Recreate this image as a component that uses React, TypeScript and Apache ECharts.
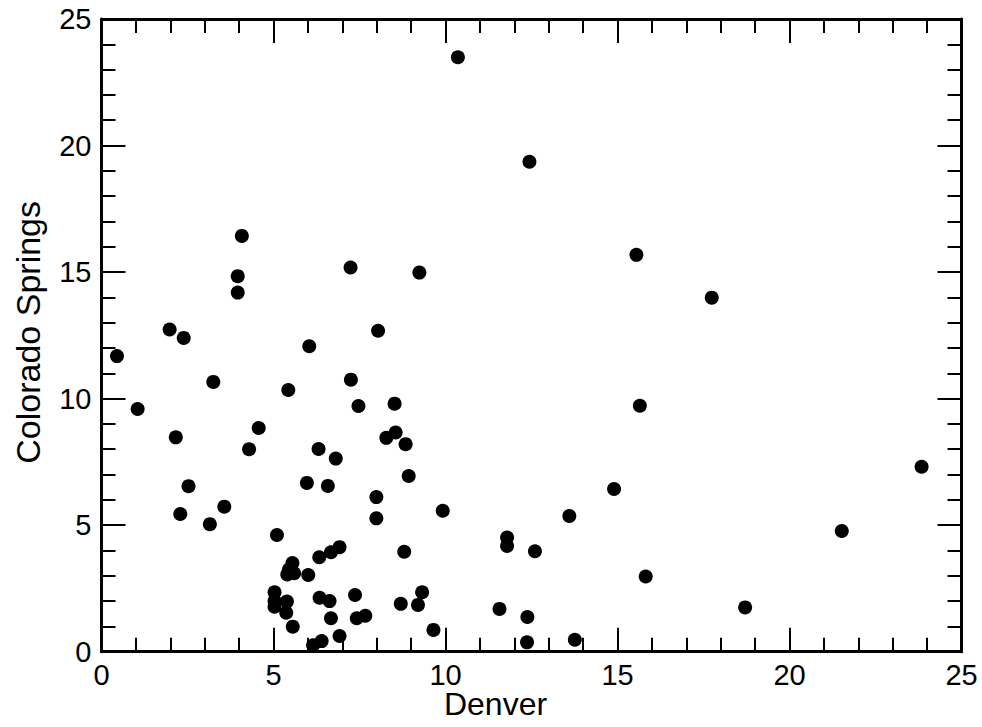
import React, { useEffect, useRef } from "react";
import * as echarts from "echarts";

const denver: number[] = [
  10.36, 12.44, 4.08, 3.96, 3.96, 7.24, 9.24, 15.55, 17.74,
  1.98, 2.39, 0.45, 6.04, 8.04,
  1.05, 3.25, 5.43, 7.25, 7.47, 8.52, 15.65,
  2.16, 4.57, 4.29, 6.31, 6.81, 8.28, 8.55, 8.84, 23.84,
  2.53, 5.97, 6.58, 8.93, 7.99, 14.9,
  2.29, 3.57, 3.15, 7.99, 9.92, 13.6,
  5.1, 21.52, 11.79, 11.79, 12.6, 8.8, 15.82,
  6.92, 6.67, 6.33,
  5.55, 5.45, 5.4, 5.6, 6.01,
  7.37, 5.03, 5.03, 5.03, 5.39, 5.37, 6.34, 6.63, 6.67, 5.56, 7.42, 7.67, 8.7, 9.2, 9.32, 9.65, 6.92, 6.4, 6.15,
  11.57, 12.38, 12.37, 13.76, 18.71,
];

const coloradoSprings: number[] = [
  23.49, 19.36, 16.43, 14.84, 14.19, 15.18, 14.98, 15.68, 13.99,
  12.73, 12.4, 11.68, 12.07, 12.68,
  9.59, 10.66, 10.34, 10.75, 9.71, 9.8, 9.72,
  8.47, 8.84, 8.0, 8.01, 7.63, 8.45, 8.66, 8.2, 7.31,
  6.54, 6.67, 6.55, 6.94, 6.11, 6.43,
  5.44, 5.73, 5.04, 5.27, 5.57, 5.36,
  4.61, 4.77, 4.51, 4.18, 3.97, 3.95, 2.97,
  4.13, 3.93, 3.73,
  3.5, 3.25, 3.05, 3.1, 3.03,
  2.24, 2.35, 2.0, 1.78, 1.98, 1.54, 2.13, 2.0, 1.32, 0.99, 1.32, 1.42, 1.89, 1.85, 2.35, 0.86, 0.62, 0.42, 0.25,
  1.69, 1.37, 0.37, 0.47, 1.75,
];

const xTitle = "Denver";
const yTitle = "Colorado Springs";
const axisMin = 0;
const axisMax = 25;
const axisStep = 5;

const FONT = "'Liberation Sans', Arial, Helvetica, sans-serif";

export default function App() {
  const ref = useRef<HTMLDivElement>(null);

  useEffect(() => {
    if (!ref.current) return;
    const chart = echarts.init(ref.current, null, { renderer: "svg" });

    const lineStyle = { color: "#000", width: 3 };
    const tickCommon = {
      show: true,
      inside: true,
      length: 24,
      lineStyle: { color: "#000", width: 2 },
    };
    const minorTickCommon = {
      show: true,
      splitNumber: 5,
      length: 14,
      lineStyle: { color: "#000", width: 2 },
    };
    const baseAxis = {
      type: "value" as const,
      min: axisMin,
      max: axisMax,
      interval: axisStep,
      splitLine: { show: false },
      minorSplitLine: { show: false },
      axisLine: { show: true, onZero: false, lineStyle },
      axisTick: tickCommon,
      minorTick: minorTickCommon,
    };

    const data = denver.map((d, i) => [d, coloradoSprings[i]]);

    chart.setOption({
      animation: false,
      backgroundColor: "#fff",
      grid: {
        left: 101.5,
        top: 19,
        width: 860,
        height: 632.7,
        containLabel: false,
        outerBoundsMode: "none",
      },
      xAxis: [
        {
          ...baseAxis,
          position: "bottom",
          name: xTitle,
          nameLocation: "middle",
          nameGap: 36,
          nameMoveOverlap: false,
          nameTextStyle: {
            color: "#000",
            fontSize: 32,
            lineHeight: 32,
            fontFamily: FONT,
            padding: [0, 72, 0, 0],
          },
          axisLabel: { show: true, color: "#000", fontSize: 29, fontFamily: FONT, margin: 9 },
        },
        {
          ...baseAxis,
          position: "top",
          axisLabel: { show: false },
        },
      ],
      yAxis: [
        {
          ...baseAxis,
          position: "left",
          name: yTitle,
          nameLocation: "middle",
          nameGap: 57,
          nameMoveOverlap: false,
          nameTextStyle: {
            color: "#000",
            fontSize: 34,
            fontFamily: FONT,
            padding: [0, 0, 0, 6],
          },
          axisLabel: { show: true, color: "#000", fontSize: 29, fontFamily: FONT, margin: 10 },
        },
        {
          ...baseAxis,
          position: "right",
          axisLabel: { show: false },
        },
      ],
      series: [
        {
          type: "scatter",
          xAxisIndex: 0,
          yAxisIndex: 0,
          symbol: "circle",
          symbolSize: 14,
          itemStyle: { color: "#000", opacity: 1 },
          data,
        },
      ],
    });

    return () => chart.dispose();
  }, []);

  return (
    <div
      ref={ref}
      style={{ position: "absolute", left: 0, top: 0, width: 982, height: 727 }}
    />
  );
}
